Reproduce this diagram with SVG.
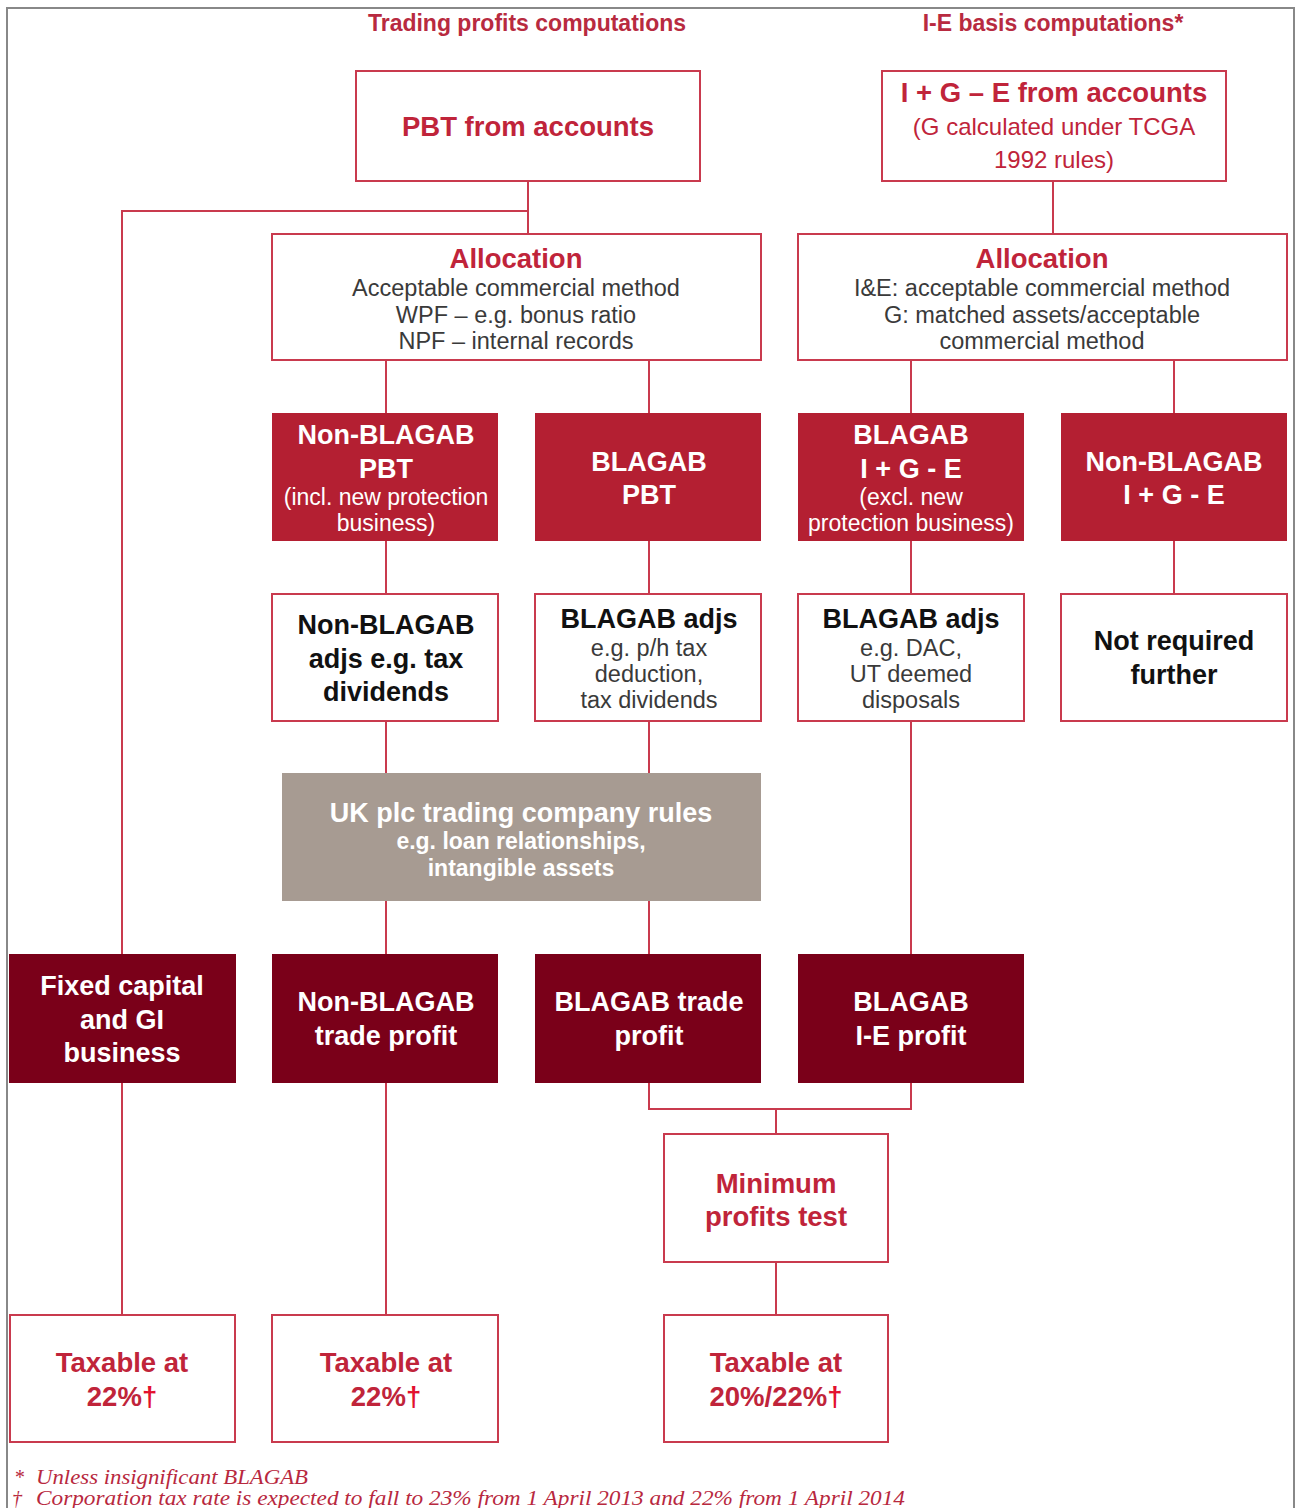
<svg xmlns="http://www.w3.org/2000/svg" width="1295" height="1508" viewBox="0 0 1295 1508">
<style>
text{font-family:"Liberation Sans",Arial,sans-serif;text-anchor:middle}
.hdr{font-size:23px;font-weight:bold;fill:#B82A40}
.wbox{fill:#fff;stroke:#C93A4E;stroke-width:2}
.rbox{fill:#B41F32}
.dbox{fill:#7A0019}
.gbox{fill:#A79B92}
.rt{font-size:27.5px;font-weight:bold;fill:#C0243A}
.rs{font-size:24px;fill:#C0243A}
.gt{font-size:23.5px;fill:#3a3a3a}
.bt{font-size:27px;font-weight:bold;fill:#111}
.wt{font-size:27px;font-weight:bold;fill:#fff}
.ws{font-size:23px;fill:#fff}
.dag{fill:#E3102E}
.conn{stroke:#C93A4E;stroke-width:2;fill:none}
.foot{font-family:"Liberation Serif","Times New Roman",serif;font-style:italic;font-size:20px;fill:#B8283E;text-anchor:start}
</style>
<rect x="0" y="0" width="1295" height="1508" fill="#fff"/>
<path d="M7,1508 V8 H1294 V1508" fill="none" stroke="#888" stroke-width="2"/>
<text class="hdr" x="527" y="31">Trading profits computations</text>
<text class="hdr" x="1053" y="31">I-E basis computations*</text>
<g id="connectors">
<path class="conn" d="M528,181 V234 M528,211 H122 V954 M1053,181 V234"/>
<path class="conn" d="M386,360 V413 M649,360 V413 M911,360 V413 M1174,360 V413"/>
<path class="conn" d="M386,541 V594 M649,541 V594 M911,541 V594 M1174,541 V594"/>
<path class="conn" d="M386,721 V773 M649,721 V773 M386,901 V954 M649,901 V954 M911,721 V954"/>
<path class="conn" d="M649,1083 V1109 H911 V1083 M776,1109 V1134 M776,1262 V1315 M122,1083 V1315 M386,1083 V1315"/>
</g>
<g id="pbt"><rect class="wbox" x="356" y="71" width="344" height="110"/><text class="rt" x="528" y="136">PBT from accounts</text></g>
<g id="ige"><rect class="wbox" x="882" y="71" width="344" height="110"/><text class="rt" x="1054" y="102">I + G – E from accounts</text><text class="rs" x="1054" y="135">(G calculated under TCGA</text><text class="rs" x="1054" y="168">1992 rules)</text></g>
<g id="alloc1"><rect class="wbox" x="272" y="234" width="489" height="126"/><text class="rt" x="516" y="268">Allocation</text><text class="gt" x="516" y="296">Acceptable commercial method</text><text class="gt" x="516" y="323">WPF – e.g. bonus ratio</text><text class="gt" x="516" y="349">NPF – internal records</text></g>
<g id="alloc2"><rect class="wbox" x="798" y="234" width="489" height="126"/><text class="rt" x="1042" y="268">Allocation</text><text class="gt" x="1042" y="296">I&amp;E: acceptable commercial method</text><text class="gt" x="1042" y="323">G: matched assets/acceptable</text><text class="gt" x="1042" y="349">commercial method</text></g>
<g id="nbpbt"><rect class="rbox" x="272" y="413" width="226" height="128"/><text class="wt" x="386" y="444">Non-BLAGAB</text><text class="wt" x="386" y="478">PBT</text><text class="ws" x="386" y="505">(incl. new protection</text><text class="ws" x="386" y="531">business)</text></g>
<g id="bpbt"><rect class="rbox" x="535" y="413" width="226" height="128"/><text class="wt" x="649" y="471">BLAGAB</text><text class="wt" x="649" y="504">PBT</text></g>
<g id="bige"><rect class="rbox" x="798" y="413" width="226" height="128"/><text class="wt" x="911" y="444">BLAGAB</text><text class="wt" x="911" y="478">I + G - E</text><text class="ws" x="911" y="505">(excl. new</text><text class="ws" x="911" y="531">protection business)</text></g>
<g id="nbige"><rect class="rbox" x="1061" y="413" width="226" height="128"/><text class="wt" x="1174" y="471">Non-BLAGAB</text><text class="wt" x="1174" y="504">I + G - E</text></g>
<g id="nbadj"><rect class="wbox" x="272" y="594" width="226" height="127"/><text class="bt" x="386" y="634">Non-BLAGAB</text><text class="bt" x="386" y="668">adjs e.g. tax</text><text class="bt" x="386" y="701">dividends</text></g>
<g id="badj1"><rect class="wbox" x="535" y="594" width="226" height="127"/><text class="bt" x="649" y="628">BLAGAB adjs</text><text class="gt" x="649" y="656">e.g. p/h tax</text><text class="gt" x="649" y="682">deduction,</text><text class="gt" x="649" y="708">tax dividends</text></g>
<g id="badj2"><rect class="wbox" x="798" y="594" width="226" height="127"/><text class="bt" x="911" y="628">BLAGAB adjs</text><text class="gt" x="911" y="656">e.g. DAC,</text><text class="gt" x="911" y="682">UT deemed</text><text class="gt" x="911" y="708">disposals</text></g>
<g id="notreq"><rect class="wbox" x="1061" y="594" width="226" height="127"/><text class="bt" x="1174" y="650">Not required</text><text class="bt" x="1174" y="684">further</text></g>
<g id="ukplc"><rect class="gbox" x="282" y="773" width="479" height="128"/><text class="wt" x="521" y="822">UK plc trading company rules</text><text class="ws" x="521" y="849" font-weight="bold">e.g. loan relationships,</text><text class="ws" x="521" y="876" font-weight="bold">intangible assets</text></g>
<g id="fixed"><rect class="dbox" x="9" y="954" width="227" height="129"/><text class="wt" x="122" y="995">Fixed capital</text><text class="wt" x="122" y="1029">and GI</text><text class="wt" x="122" y="1062">business</text></g>
<g id="nbtp"><rect class="dbox" x="272" y="954" width="226" height="129"/><text class="wt" x="386" y="1011">Non-BLAGAB</text><text class="wt" x="386" y="1045">trade profit</text></g>
<g id="btp"><rect class="dbox" x="535" y="954" width="226" height="129"/><text class="wt" x="649" y="1011">BLAGAB trade</text><text class="wt" x="649" y="1045">profit</text></g>
<g id="biep"><rect class="dbox" x="798" y="954" width="226" height="129"/><text class="wt" x="911" y="1011">BLAGAB</text><text class="wt" x="911" y="1045">I-E profit</text></g>
<g id="mpt"><rect class="wbox" x="664" y="1134" width="224" height="128"/><text class="rt" x="776" y="1193">Minimum</text><text class="rt" x="776" y="1226">profits test</text></g>
<g id="tax1"><rect class="wbox" x="10" y="1315" width="225" height="127"/><text class="rt" x="122" y="1372">Taxable at</text><text class="rt" x="122" y="1406">22%<tspan class="dag">†</tspan></text></g>
<g id="tax2"><rect class="wbox" x="272" y="1315" width="226" height="127"/><text class="rt" x="386" y="1372">Taxable at</text><text class="rt" x="386" y="1406">22%<tspan class="dag">†</tspan></text></g>
<g id="tax3"><rect class="wbox" x="664" y="1315" width="224" height="127"/><text class="rt" x="776" y="1372">Taxable at</text><text class="rt" x="776" y="1406">20%/22%<tspan class="dag">†</tspan></text></g>
<text class="foot" x="14" y="1484">*</text><text class="foot" x="36" y="1484" textLength="272" lengthAdjust="spacingAndGlyphs">Unless insignificant BLAGAB</text>
<text class="foot" x="12" y="1505">†</text><text class="foot" x="36" y="1505" textLength="869" lengthAdjust="spacingAndGlyphs">Corporation tax rate is expected to fall to 23% from 1 April 2013 and 22% from 1 April 2014</text>
</svg>
